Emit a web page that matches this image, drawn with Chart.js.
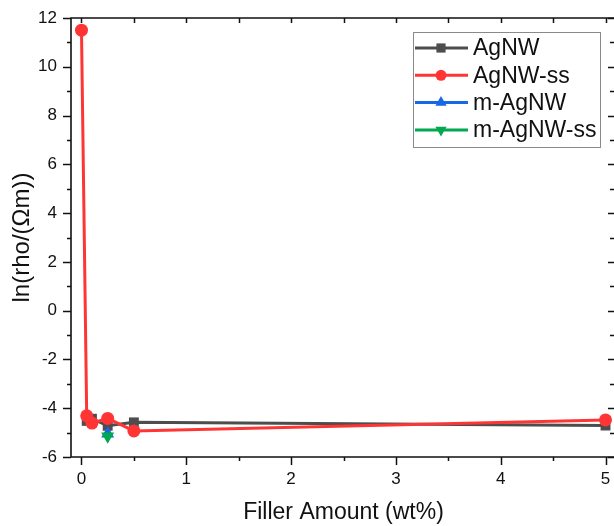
<!DOCTYPE html>
<html>
<head>
<meta charset="utf-8">
<script src="https://cdn.jsdelivr.net/npm/chart.js@4.4.1/dist/chart.umd.min.js"></script>
<style>
  html, body { margin: 0; padding: 0; background: #fff; }
  #chart { display: block; }
</style>
</head>
<body>
<canvas id="chart" width="614" height="526"></canvas>
<script>
// data
const agnwX = [0.05, 0.1, 0.25, 0.5, 5];
const agnwY = [-4.52, -4.43, -4.72, -4.58, -4.71];
const agnwSsX = [0, 0.05, 0.1, 0.25, 0.5, 5];
const agnwSsY = [11.5, -4.31, -4.61, -4.42, -4.93, -4.48];
const mAgnwX = [0.25];
const mAgnwY = [-5.05];
const mAgnwSsX = [0.25];
const mAgnwSsY = [-5.15];

const seriesNames = ['AgNW', 'AgNW-ss', 'm-AgNW', 'm-AgNW-ss'];
const xTicks = [0, 1, 2, 3, 4, 5];
const xMinor = [0.5, 1.5, 2.5, 3.5, 4.5];
const yTicks = [-6, -4, -2, 0, 2, 4, 6, 8, 10, 12];
const yMinor = [-5, -3, -1, 1, 3, 5, 7, 9, 11];

const FONT = '"Liberation Sans", Arial, Helvetica, sans-serif';
const colors = ['#4d4d4d', '#ff3535', '#1767e6', '#00a850'];
const styles = ['rect', 'circle', 'triangle', 'triangle'];
const rotations = [0, 0, 0, 180];
const radii = [7, 6.5, 7.5, 7.5];

// the plot frame runs a little past the right edge of the picture
const PLOT_RIGHT = 616;

function pts(xs, ys) {
    return xs.map((x, i) => ({ x: x, y: ys[i] }));
}

const allData = [
    pts(agnwX, agnwY),
    pts(agnwSsX, agnwSsY),
    pts(mAgnwX, mAgnwY),
    pts(mAgnwSsX, mAgnwSsY)
];

const datasets = seriesNames.map((name, i) => ({
    label: name,
    data: allData[i],
    borderColor: colors[i],
    backgroundColor: colors[i],
    borderWidth: 3,
    pointStyle: styles[i],
    rotation: rotations[i],
    pointRadius: radii[i],
    pointBorderWidth: 0,
    pointBackgroundColor: colors[i],
    tension: 0,
    order: 4 - i
}));

// stretch the x scale out to PLOT_RIGHT
const stretchPlugin = {
    id: 'stretch',
    afterLayout(chart) {
        const xs = chart.scales.x;
        xs.right = PLOT_RIGHT;
        xs.width = PLOT_RIGHT - xs.left;
        xs.configure();
        chart.chartArea.right = PLOT_RIGHT;
        chart.chartArea.width = PLOT_RIGHT - chart.chartArea.left;
    }
};

// frame + major/minor ticks on all four sides
const framePlugin = {
    id: 'frame',
    afterDraw(chart) {
        const ctx = chart.ctx;
        const a = chart.chartArea;
        const xs = chart.scales.x;
        const ys = chart.scales.y;
        ctx.save();
        ctx.strokeStyle = '#111';
        ctx.lineWidth = 1.6;
        ctx.beginPath();
        ctx.moveTo(a.left, a.top);
        ctx.lineTo(a.right, a.top);
        ctx.lineTo(a.right, a.bottom);
        ctx.lineTo(a.left, a.bottom);
        ctx.closePath();
        ctx.stroke();

        ctx.lineWidth = 1.5;
        ctx.beginPath();
        const tickX = (v, bot, top) => {
            const px = Math.round(xs.getPixelForValue(v)) + 0.5;
            ctx.moveTo(px, a.bottom);
            ctx.lineTo(px, a.bottom + bot);
            ctx.moveTo(px, a.top);
            ctx.lineTo(px, a.top + top);
        };
        const tickY = (v, left, right) => {
            const py = Math.round(ys.getPixelForValue(v)) + 0.5;
            ctx.moveTo(a.left, py);
            ctx.lineTo(a.left - left, py);
            ctx.moveTo(a.right, py);
            ctx.lineTo(a.right - right, py);
        };
        xTicks.forEach(v => tickX(v, 8, 5));
        xMinor.forEach(v => tickX(v, 4, 5));
        yTicks.forEach(v => tickY(v, 8, 8));
        yMinor.forEach(v => tickY(v, 4, 6));
        ctx.stroke();
        ctx.restore();
    }
};

// legend: line sample with marker, then the name
const legendPlugin = {
    id: 'boxLegend',
    afterDraw(chart) {
        const ctx = chart.ctx;
        const bx = 413, by = 32, bw = 187, bh = 115;
        ctx.save();
        ctx.fillStyle = '#fff';
        ctx.fillRect(bx, by, bw, bh);
        ctx.strokeStyle = '#8a8a8a';
        ctx.lineWidth = 1;
        ctx.strokeRect(bx + 0.5, by + 0.5, bw, bh);
        ctx.font = '23px ' + FONT;
        ctx.textBaseline = 'middle';
        seriesNames.forEach((name, i) => {
            const y = by + 16 + i * 27.3;
            ctx.strokeStyle = colors[i];
            ctx.lineWidth = 3;
            ctx.beginPath();
            ctx.moveTo(415, y);
            ctx.lineTo(468, y);
            ctx.stroke();
            ctx.fillStyle = colors[i];
            Chart.helpers.drawPoint(ctx, {
                pointStyle: styles[i],
                rotation: rotations[i],
                radius: i === 1 ? 5.5 : 6.5,
                borderWidth: 0
            }, 441, y);
            ctx.fillStyle = '#111';
            ctx.fillText(name, 473, y + 1);
        });
        ctx.restore();
    }
};

new Chart(document.getElementById('chart'), {
    type: 'line',
    data: { datasets: datasets },
    options: {
        responsive: false,
        animation: false,
        devicePixelRatio: 1,
        layout: { padding: { top: 18, right: 0, left: 0, bottom: 0 } },
        plugins: {
            legend: { display: false },
            tooltip: { enabled: false }
        },
        scales: {
            x: {
                type: 'linear',
                min: -0.1,
                max: 5.1,
                afterBuildTicks: s => { s.ticks = xTicks.map(v => ({ value: v })); },
                afterFit: s => {
                    s.height = 69;
                    s.paddingLeft = 0;
                    s.paddingRight = 0;
                },
                grid: { display: false, drawTicks: false },
                border: { display: false },
                ticks: {
                    padding: 12,
                    color: '#111',
                    font: { family: FONT, size: 17 },
                    callback: v => String(v)
                },
                title: {
                    display: true,
                    text: 'Filler Amount (wt%)',
                    color: '#111',
                    font: { family: FONT, size: 23 },
                    padding: { top: 0, bottom: 0 }
                }
            },
            y: {
                type: 'linear',
                min: -6,
                max: 12,
                afterBuildTicks: s => { s.ticks = yTicks.map(v => ({ value: v })); },
                afterFit: s => {
                    s.width = 71;
                    s.paddingTop = 0;
                    s.paddingBottom = 0;
                },
                grid: { display: false, drawTicks: false },
                border: { display: false },
                ticks: {
                    padding: 14,
                    color: '#111',
                    font: { family: FONT, size: 17 },
                    callback: v => String(v)
                },
                title: {
                    display: true,
                    text: 'ln(rho/(Ωm))',
                    color: '#111',
                    font: { family: FONT, size: 24 },
                    padding: { top: 8, bottom: 0 }
                }
            }
        }
    },
    plugins: [stretchPlugin, framePlugin, legendPlugin]
});
</script>
</body>
</html>
